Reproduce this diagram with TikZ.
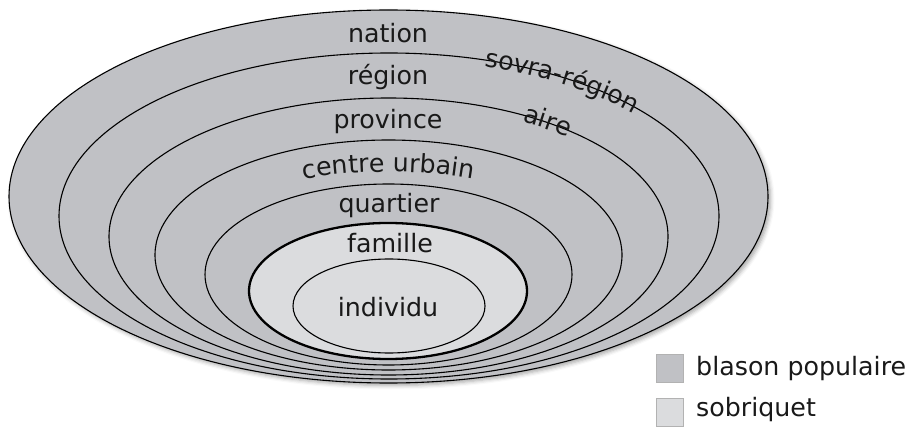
\documentclass[tikz,border=0pt]{standalone}
\usepackage{fontspec}
\setmainfont{DejaVu Sans}
\usetikzlibrary{calc,decorations.text,shadows.blur}
\definecolor{blason}{RGB}{192,193,197}
\definecolor{sobri}{RGB}{219,220,222}
\newcommand{\labfont}{\fontsize{25.3}{30}\selectfont}
\begin{document}
\begin{tikzpicture}[x=1pt,y=1pt,
  ring/.style={draw=black, line width=1.1pt, fill=blason},
  inner/.style={draw=black, line width=1.1pt, fill=sobri},
  famring/.style={draw=black, line width=2.3pt, fill=sobri},
  lab/.style={font=\labfont, anchor=base, inner sep=0pt, text=black!90},
  key/.style={draw=black!30, line width=0.6pt, minimum width=27pt, minimum height=28pt, inner sep=0pt}]
\useasboundingbox (0,0) rectangle (912,426);
% centres
\coordinate (c1) at (388.5,229.5);
\coordinate (c2) at (389,210);
\coordinate (c3) at (388.5,189.5);
\coordinate (c4) at (388.5,171);
\coordinate (c5) at (388.5,151.5);
\coordinate (c6) at (388,135);
\coordinate (c7) at (389,120);
% rings
\draw[ring, blur shadow={shadow xshift=2.5pt, shadow yshift=-2.5pt, shadow blur radius=4pt, shadow opacity=35}] (c1) ellipse [x radius=379.5, y radius=186.5];
\draw[ring] (c2) ellipse [x radius=330, y radius=163];
\draw[ring] (c3) ellipse [x radius=279.5, y radius=138.5];
\draw[ring] (c4) ellipse [x radius=233.5, y radius=115];
\draw[ring] (c5) ellipse [x radius=183.5, y radius=90.5];
\draw[famring] (c6) ellipse [x radius=139, y radius=68];
\draw[inner] (c7) ellipse [x radius=96, y radius=47];
% labels
\node[lab] (nation) at (388,383.3) {nation};
\node[lab] (region) at (388,341) {région};
\node[lab] (province) at (388,297) {province};
\path[decorate, decoration={text along path, text align=center, text={|\labfont\color{black!90}|centre urbain}}]
  ($(c4)+(150:210pt and 83pt)$) arc[start angle=150, end angle=30, x radius=210pt, y radius=83pt];
\node[lab] (quartier) at (389,213) {quartier};
\node[lab] (famille) at (390,173) {famille};
\node[lab] (individu) at (388,110) {individu};
% struck-through labels along rings
\path[decorate, decoration={text along path, text align=left, raise=-6.5pt, text={|\labfont\color{black!90}|sovra-région}}]
  ($(c2)+(73:330pt and 163pt)$) arc[start angle=73, end angle=15, x radius=330pt, y radius=163pt];
\path[decorate, decoration={text along path, text align=left, raise=-6.5pt, text={|\labfont\color{black!90}|aire}}]
  ($(c3)+(61:279.5pt and 138.5pt)$) arc[start angle=61, end angle=30, x radius=279.5pt, y radius=138.5pt];
% legend
\node[key, fill=blason] (k1) at (669.5,58) {};
\node[lab, anchor=base west] (t1) at (696,51) {blason populaire};
\node[key, fill=sobri] (k2) at (669.5,14) {};
\node[lab, anchor=base west] (t2) at (696,10) {sobriquet};
\end{tikzpicture}
\end{document}
